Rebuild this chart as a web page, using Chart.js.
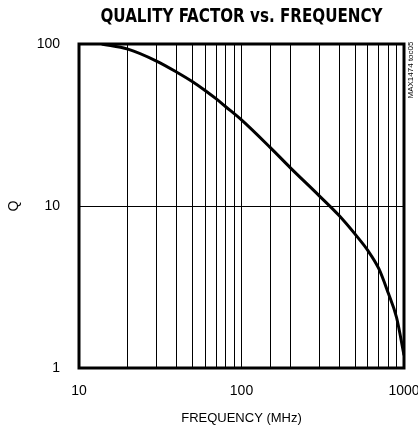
<!DOCTYPE html>
<html>
<head>
<meta charset="utf-8">
<script src="https://cdn.jsdelivr.net/npm/chart.js@4/dist/chart.umd.min.js"></script>
<style>
  html, body { margin: 0; padding: 0; background: #fff; }
  canvas { display: block; }
</style>
</head>
<body>
<canvas id="chart" width="418" height="429"></canvas>
<script>
// values
const frequencyMHz = [13.8, 20, 30, 40, 50, 60, 70, 80, 100, 150, 200, 300, 400, 500, 600, 700, 800, 900, 1000];
const qFactor = [100, 93, 78.5, 67, 58.5, 51.5, 45.8, 41, 34, 23, 17.2, 11.6, 8.7, 6.7, 5.3, 4.1, 2.9, 2.05, 1.2];
const xTickLabels = [10, 100, 1000];
const yTickLabels = [1, 10, 100];

const tickFont = { family: "'Liberation Sans', Arial, sans-serif", size: 14 };

// condensed bold heading, thick frame round the plot, side note
const framePlugin = {
  id: "frame",
  afterDraw(chart) {
    const { ctx, chartArea: a } = chart;
    ctx.save();
    ctx.strokeStyle = "#000";
    ctx.lineWidth = 3;
    ctx.strokeRect(a.left, a.top, a.right - a.left, a.bottom - a.top);

    ctx.fillStyle = "#000";
    ctx.textAlign = "center";
    ctx.textBaseline = "middle";
    ctx.font = "bold 19.5px 'DejaVu Sans Condensed', 'Liberation Sans', sans-serif";
    const title = "QUALITY FACTOR vs. FREQUENCY";
    const sx = 282 / ctx.measureText(title).width;
    ctx.save();
    ctx.translate((a.left + a.right) / 2, 17);
    ctx.scale(sx, 1);
    ctx.fillText(title, 0, 0);
    ctx.restore();

    ctx.translate(411, 70);
    ctx.rotate(-Math.PI / 2);
    ctx.font = "8px 'Liberation Sans', sans-serif";
    ctx.fillText("MAX1474 toc05", 0, 0);
    ctx.restore();
  },
};

new Chart(document.getElementById("chart"), {
  type: "line",
  data: {
    datasets: [
      {
        data: frequencyMHz.map((f, i) => ({ x: f, y: qFactor[i] })),
        borderColor: "#000",
        borderWidth: 3,
        pointRadius: 0,
        cubicInterpolationMode: "monotone",
        fill: false,
      },
    ],
  },
  options: {
    responsive: false,
    animation: false,
    layout: { padding: { left: 0, right: 14, top: 44, bottom: 0 } },
    plugins: {
      legend: { display: false },
      tooltip: { enabled: false },
      title: { display: false },
    },
    scales: {
      x: {
        type: "logarithmic",
        min: 10,
        max: 1000,
        border: { display: false },
        grid: { color: "#000", lineWidth: 1, drawTicks: false },
        ticks: {
          autoSkip: false,
          maxRotation: 0,
          padding: 15,
          color: "#000",
          font: tickFont,
          callback: (v) => (xTickLabels.includes(v) ? String(v) : ""),
        },
        title: {
          display: true,
          text: "FREQUENCY (MHz)",
          color: "#000",
          font: { family: "'Liberation Sans', Arial, sans-serif", size: 13 },
          padding: { top: 0, bottom: 3 },
        },
        afterFit(scale) {
          scale.height = 61;
          scale.paddingLeft = 0;
          scale.paddingRight = 0;
        },
      },
      y: {
        type: "logarithmic",
        min: 1,
        max: 100,
        border: { display: false },
        grid: {
          drawTicks: false,
          lineWidth: 1,
          color: (ctx) => (ctx.tick && ctx.tick.value === 10 ? "#000" : "rgba(0,0,0,0)"),
        },
        ticks: {
          autoSkip: false,
          padding: 19,
          color: "#000",
          font: tickFont,
          callback: (v) => (yTickLabels.includes(v) ? String(v) : ""),
        },
        title: {
          display: true,
          text: "Q",
          color: "#000",
          font: { family: "'Liberation Sans', Arial, sans-serif", size: 14 },
          padding: { top: 6, bottom: 0 },
        },
        afterFit(scale) {
          scale.width = 79;
          scale.paddingTop = 0;
          scale.paddingBottom = 0;
        },
      },
    },
  },
  plugins: [framePlugin],
});
</script>
</body>
</html>
